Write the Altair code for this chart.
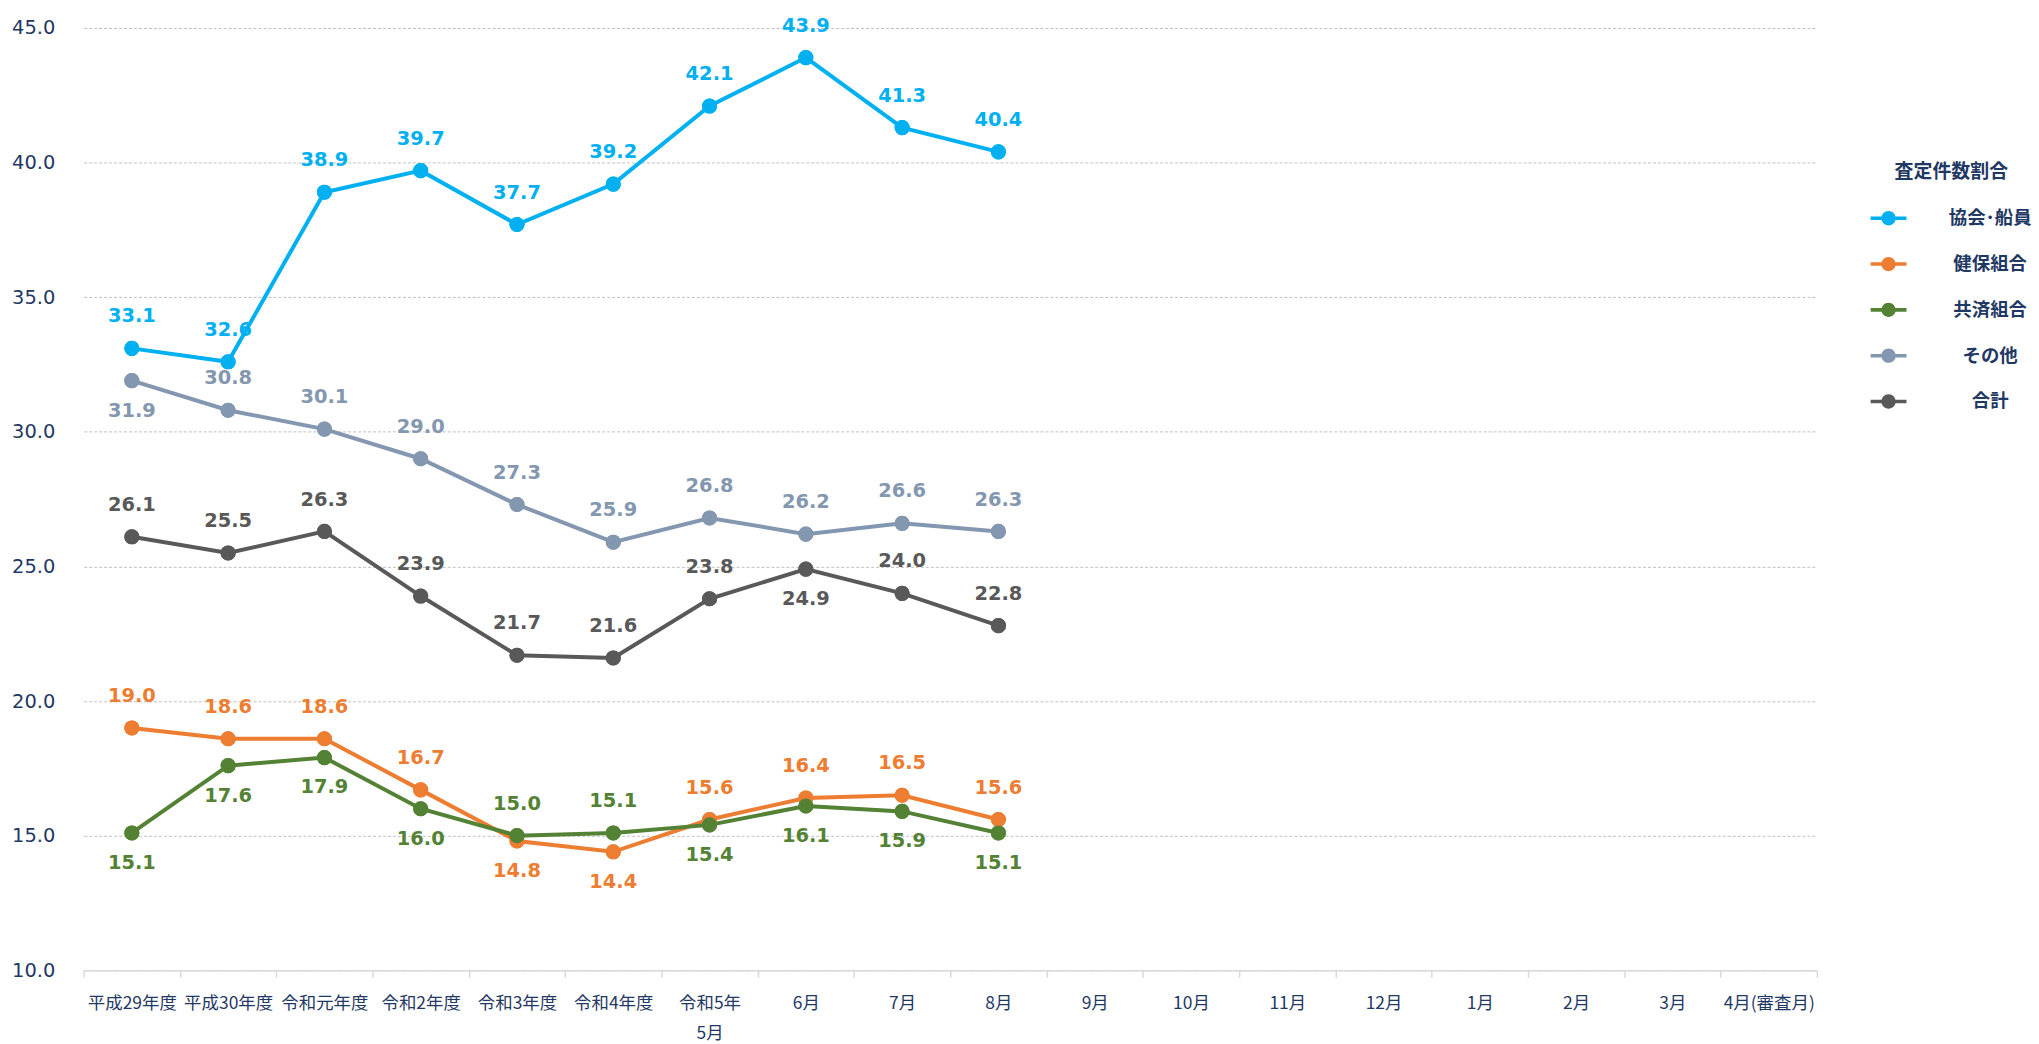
import altair as alt
import pandas as pd

categories = ["平成29年度", "平成30年度", "令和元年度", "令和2年度", "令和3年度", "令和4年度",
              "令和5年\n5月", "6月", "7月", "8月", "9月", "10月", "11月", "12月",
              "1月", "2月", "3月", "4月(審査月)"]

series_names = ["協会･船員", "健保組合", "共済組合", "その他", "合計"]
series_colors = ["#00B0F0", "#ED7D31", "#548235", "#8497B0", "#595959"]

kyokai = [33.1, 32.6, 38.9, 39.7, 37.7, 39.2, 42.1, 43.9, 41.3, 40.4]
kenpo = [19.0, 18.6, 18.6, 16.7, 14.8, 14.4, 15.6, 16.4, 16.5, 15.6]
kyosai = [15.1, 17.6, 17.9, 16.0, 15.0, 15.1, 15.4, 16.1, 15.9, 15.1]
sonota = [31.9, 30.8, 30.1, 29.0, 27.3, 25.9, 26.8, 26.2, 26.6, 26.3]
goukei = [26.1, 25.5, 26.3, 23.9, 21.7, 21.6, 23.8, 24.9, 24.0, 22.8]

# indices whose value label sits below the point
below_kyokai = []
below_kenpo = [4, 5]
below_kyosai = [0, 1, 2, 3, 6, 7, 8, 9]
below_sonota = [0]
below_goukei = [7]

y_ticks = [10, 15, 20, 25, 30, 35, 40, 45]

series_values = [kyokai, kenpo, kyosai, sonota, goukei]
series_below = [below_kyokai, below_kenpo, below_kyosai, below_sonota, below_goukei]

rows = []
for name, vals, below in zip(series_names, series_values, series_below):
    for i, v in enumerate(vals):
        rows.append({"series": name, "cat": categories[i], "value": v,
                     "pos": "below" if i in below else "above"})
df = pd.DataFrame(rows)

navy = "#1F3864"
color_scale = alt.Scale(domain=series_names, range=series_colors)

x_enc = alt.X("cat:N", sort=categories,
              scale=alt.Scale(type="band", domain=categories, paddingInner=0, paddingOuter=0),
              axis=alt.Axis(title=None, tickBand="extent", labelAngle=0,
                            labelFont="Noto Sans CJK JP", labelFontSize=17.5, labelColor=navy,
                            labelPadding=17, labelLineHeight=31,
                            labelExpr="split(datum.label, '\\n')",
                            domainColor="#D9D9D9", domainWidth=1.5,
                            tickColor="#D9D9D9", tickSize=7, tickWidth=1.5, grid=False))
y_enc = alt.Y("value:Q",
              scale=alt.Scale(domain=[10, 45], nice=False, zero=False),
              axis=alt.Axis(title=None, values=y_ticks, format=".1f",
                            labelFont="DejaVu Sans", labelFontSize=19.5, labelColor=navy,
                            labelPadding=29, domain=False, ticks=False,
                            grid=True, gridDash=[3, 2], gridColor="#BFBFBF", gridWidth=1))

base = alt.Chart(df).encode(x=x_enc, y=y_enc)

legend_symbol = ("M-1,-0.1L-0.3,-0.1L-0.3,0.1L-1,0.1Z "
                 "M0.3,-0.1L1,-0.1L1,0.1L0.3,0.1Z "
                 "M0.4,0A0.4,0.4,0,1,1,-0.4,0A0.4,0.4,0,1,1,0.4,0Z")

legend = alt.Legend(title="査定件数割合", orient="none",
                    legendX=1794, legendY=136,
                    symbolType=legend_symbol, symbolSize=1296,
                    symbolOpacity=1, symbolStrokeWidth=0,
                    titleFont="Noto Sans CJK JP", titleFontSize=19,
                    titleFontWeight="bold", titleColor=navy,
                    titleAnchor="middle", titlePadding=18,
                    labelFont="Noto Sans CJK JP", labelFontSize=18.5,
                    labelFontWeight="bold", labelColor=navy,
                    labelAlign="center", labelOffset=84,
                    rowPadding=18)

color_enc = alt.Color("series:N", scale=color_scale, sort=series_names, legend=legend)

lines = base.mark_line(strokeWidth=4).encode(color=color_enc, detail="series:N")

points = base.mark_circle(size=230, opacity=1).encode(color=color_enc)

text_style = dict(fontSize=19.5, fontWeight="bold", font="DejaVu Sans", baseline="middle")

labels_above = base.mark_text(dy=-32, **text_style).encode(
    text=alt.Text("value:Q", format=".1f"), color=color_enc
).transform_filter("datum.pos == 'above'")

labels_below = base.mark_text(dy=30, **text_style).encode(
    text=alt.Text("value:Q", format=".1f"), color=color_enc
).transform_filter("datum.pos == 'below'")

chart = alt.layer(points, lines, labels_above, labels_below, points).properties(
    width=1740, height=946,
    autosize=alt.AutoSizeParams(type="none"),
    padding={"left": 76, "top": 18, "right": 215, "bottom": 78},
).configure_view(stroke=None).configure_legend(
    labelFontSize=18.5, titleFontSize=19, labelFont="Noto Sans CJK JP",
    titleFont="Noto Sans CJK JP")

chart.save("out.html", embed_options={"renderer": "svg", "actions": False})
